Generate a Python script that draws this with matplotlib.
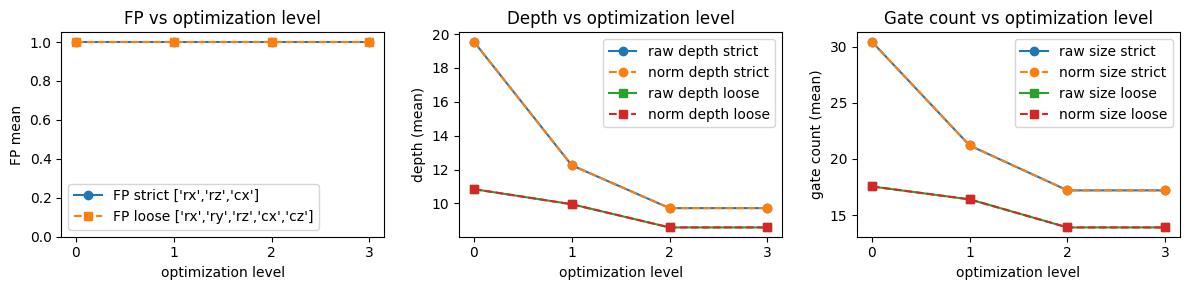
import matplotlib
matplotlib.use("Agg")
import matplotlib.pyplot as plt

# optimization levels
levels = [0, 1, 2, 3]

# FP means
fp_strict = [1.0, 1.0, 1.0, 1.0]
fp_loose = [1.0, 1.0, 1.0, 1.0]

# depth means
raw_depth_strict = [19.55, 12.25, 9.72, 9.72]
norm_depth_strict = [19.55, 12.25, 9.72, 9.72]
raw_depth_loose = [10.84, 9.95, 8.58, 8.58]
norm_depth_loose = [10.84, 9.95, 8.58, 8.58]

# gate count means
raw_size_strict = [30.45, 21.2, 17.2, 17.2]
norm_size_strict = [30.45, 21.2, 17.2, 17.2]
raw_size_loose = [17.55, 16.4, 13.9, 13.9]
norm_size_loose = [17.55, 16.4, 13.9, 13.9]

fig, axes = plt.subplots(1, 3, figsize=(12, 3), dpi=100)

ax = axes[0]
ax.plot(levels, fp_strict, marker='o', label="FP strict ['rx','rz','cx']")
ax.plot(levels, fp_loose, marker='s', linestyle='--', label="FP loose ['rx','ry','rz','cx','cz']")
ax.set_ylim(0, 1.05)
ax.set_xticks(levels)
ax.set_xlabel("optimization level")
ax.set_ylabel("FP mean")
ax.set_title("FP vs optimization level")
ax.legend()

ax = axes[1]
ax.plot(levels, raw_depth_strict, marker='o', label="raw depth strict")
ax.plot(levels, norm_depth_strict, marker='o', linestyle='--', label="norm depth strict")
ax.plot(levels, raw_depth_loose, marker='s', label="raw depth loose")
ax.plot(levels, norm_depth_loose, marker='s', linestyle='--', label="norm depth loose")
ax.set_xticks(levels)
ax.set_xlabel("optimization level")
ax.set_ylabel("depth (mean)")
ax.set_title("Depth vs optimization level")
ax.legend()

ax = axes[2]
ax.plot(levels, raw_size_strict, marker='o', label="raw size strict")
ax.plot(levels, norm_size_strict, marker='o', linestyle='--', label="norm size strict")
ax.plot(levels, raw_size_loose, marker='s', label="raw size loose")
ax.plot(levels, norm_size_loose, marker='s', linestyle='--', label="norm size loose")
ax.set_xticks(levels)
ax.set_xlabel("optimization level")
ax.set_ylabel("gate count (mean)")
ax.set_title("Gate count vs optimization level")
ax.legend()

plt.tight_layout()
plt.savefig("out.png", bbox_inches="tight")
